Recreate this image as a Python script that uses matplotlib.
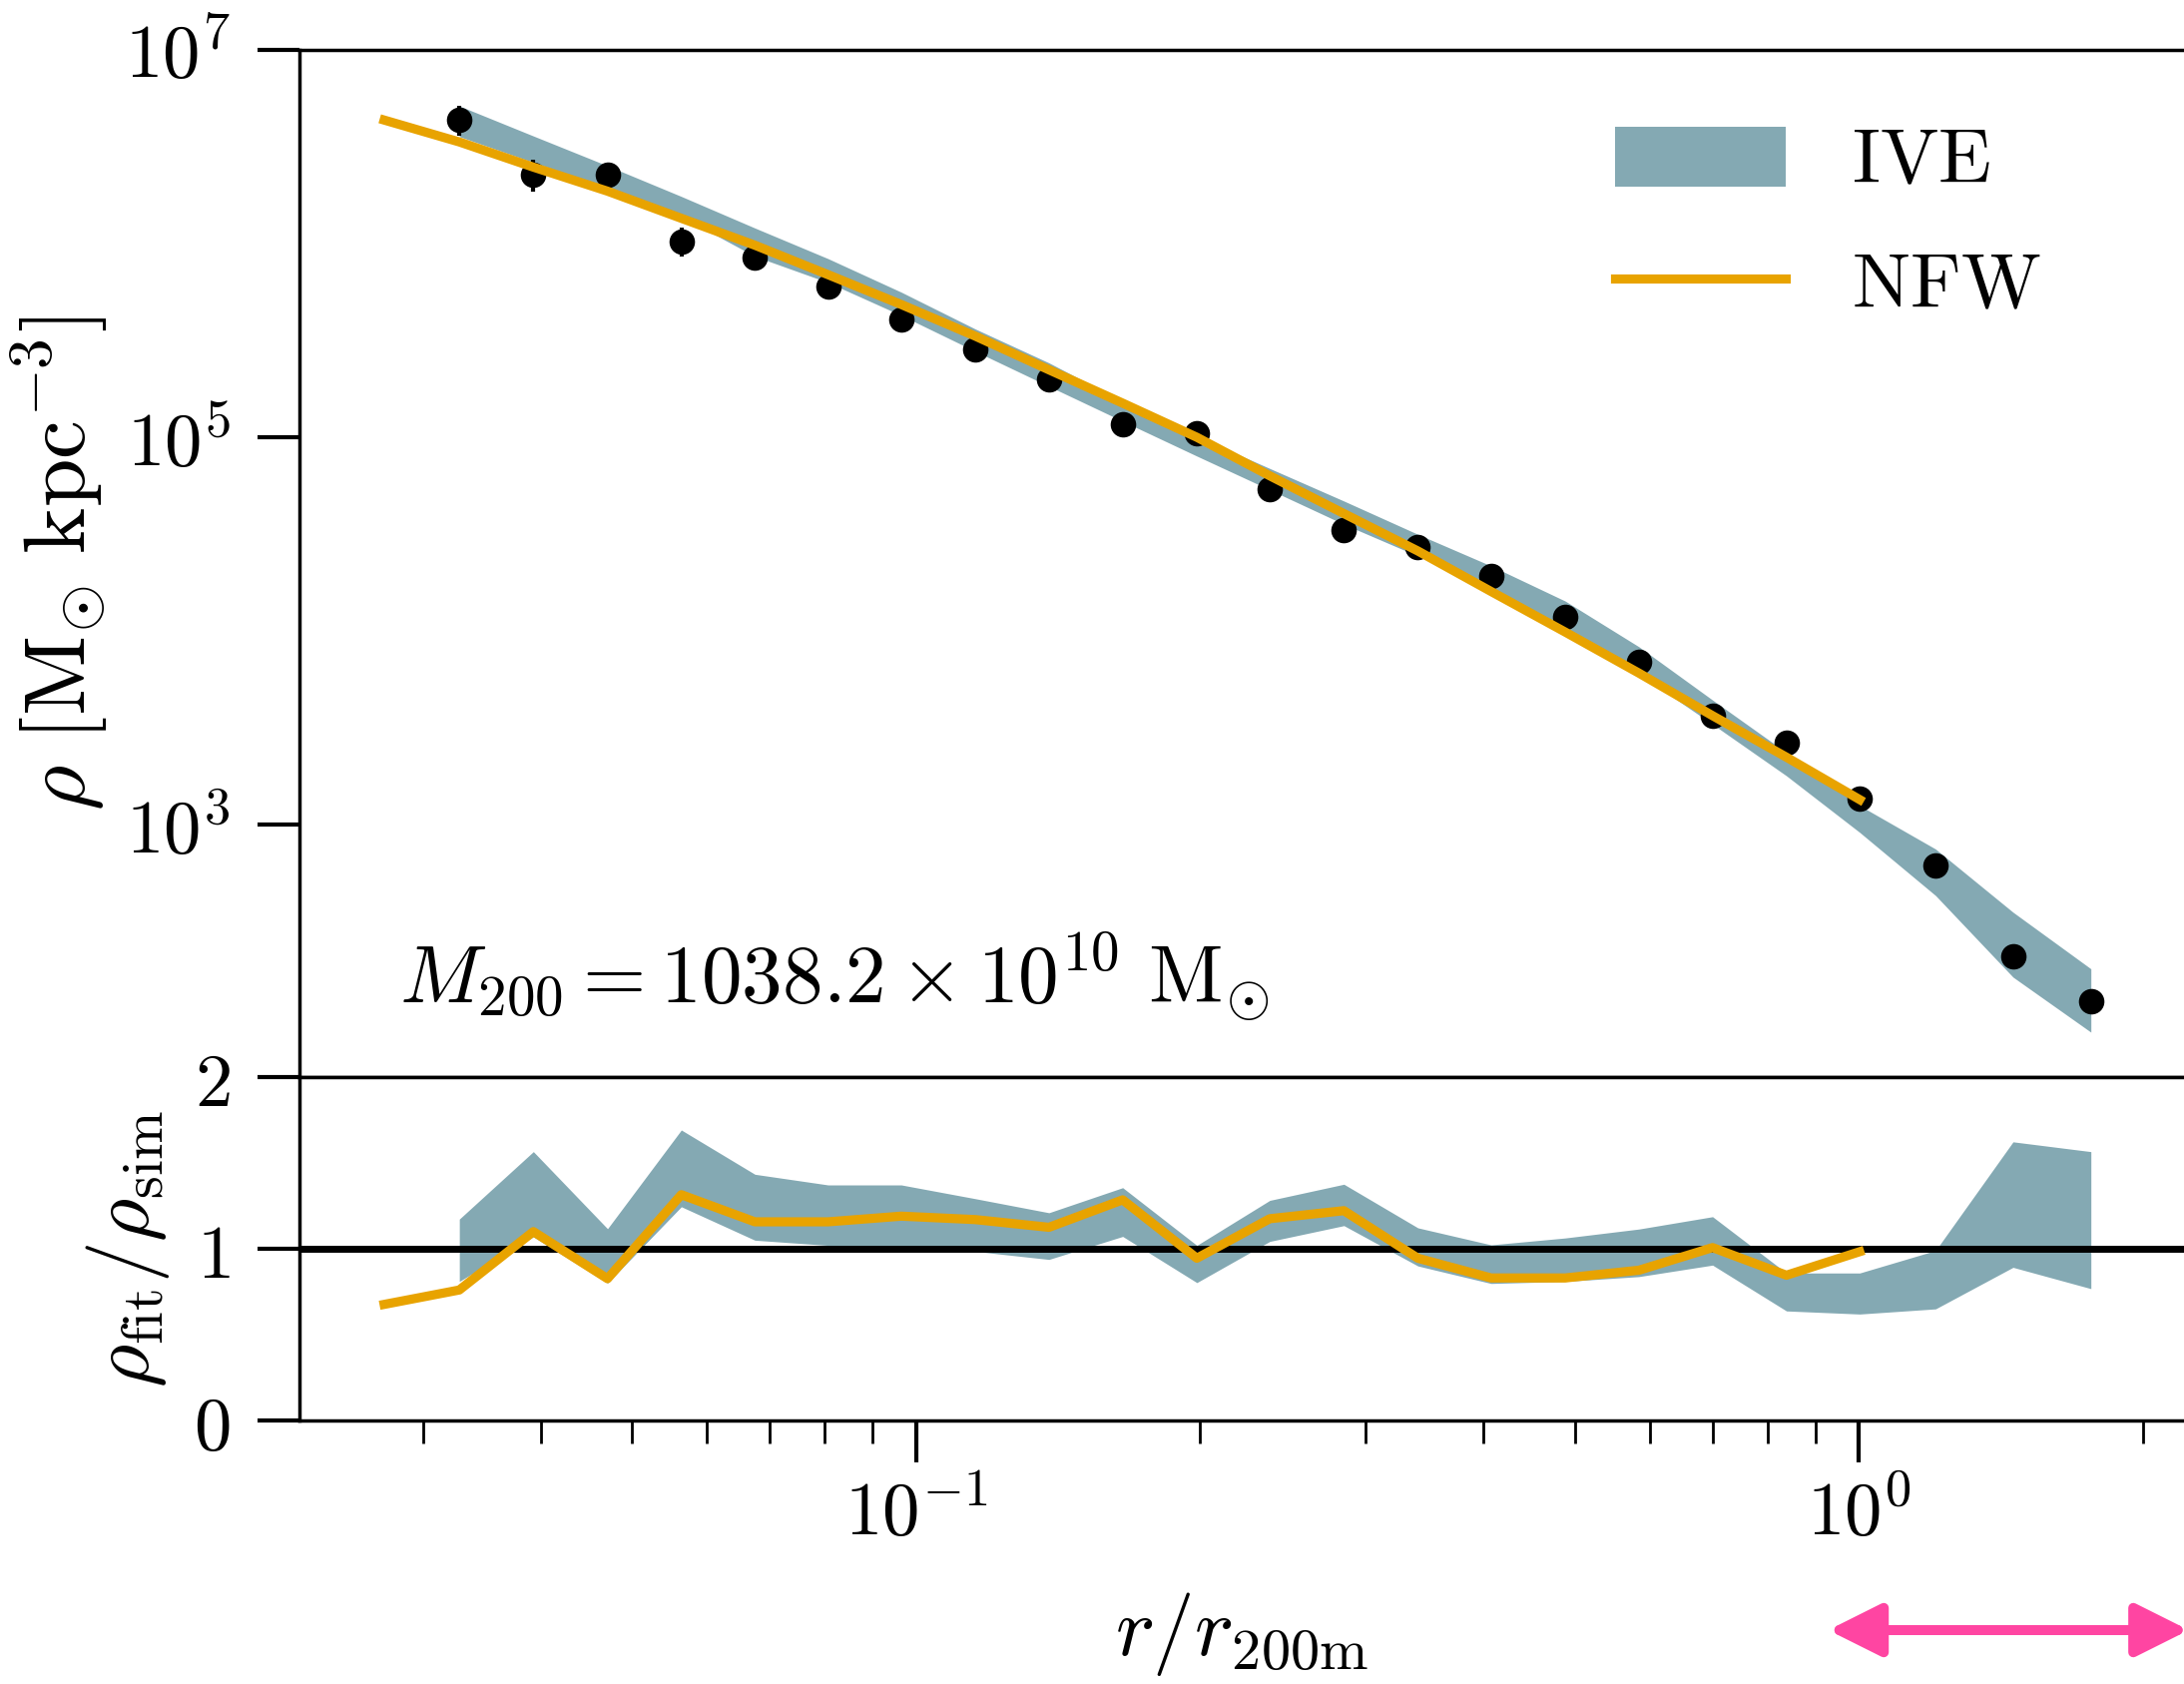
import numpy as np
import matplotlib
matplotlib.use("Agg")
import matplotlib.pyplot as plt
from matplotlib.patches import Patch
from matplotlib.lines import Line2D
from matplotlib.ticker import FixedLocator, LogLocator, NullLocator, FuncFormatter, NullFormatter

plt.rcParams['mathtext.fontset'] = 'cm'
plt.rcParams['font.family'] = 'serif'

# radial bins (r / r_200m) of the simulated profile
r = np.array([0.0328, 0.0393, 0.0471, 0.0564, 0.0675, 0.0807, 0.0965, 0.1156,
              0.1384, 0.1657, 0.1986, 0.2373, 0.2844, 0.3407, 0.4074, 0.4881,
              0.5844, 0.6996, 0.8379, 1.002, 1.206, 1.457, 1.762])
# bins used by the NFW fit
r_fit = np.array([0.0273, 0.0328, 0.0393, 0.0471, 0.0564, 0.0675, 0.0807, 0.0965,
                  0.1156, 0.1384, 0.1657, 0.1986, 0.2373, 0.2844, 0.3407, 0.4074,
                  0.4881, 0.5844, 0.6996, 0.8379, 1.002])

# log10 density of the simulation [Msun kpc^-3] and its errors in dex
rho_sim_log = np.array([6.639, 6.356, 6.356, 6.012, 5.929, 5.777, 5.610, 5.454,
                        5.299, 5.067, 5.024, 4.732, 4.521, 4.437, 4.285, 4.076,
                        3.842, 3.563, 3.423, 3.138, 2.790, 2.323, 2.093])
err_lo = np.array([0.082, 0.089, 0.06, 0.077, 0.06, 0.05, 0.045, 0.04, 0.035, 0.035,
                   0.03, 0.03, 0.03, 0.025, 0.025, 0.025, 0.025, 0.025, 0.025, 0.025,
                   0.03, 0.03, 0.035])
err_hi = np.array([0.072, 0.077, 0.06, 0.069, 0.06, 0.05, 0.045, 0.04, 0.035, 0.035,
                   0.03, 0.03, 0.03, 0.025, 0.025, 0.025, 0.025, 0.025, 0.025, 0.025,
                   0.03, 0.03, 0.035])

# IVE envelope (log10 density)
ive_hi_log = np.array([6.711, 6.556, 6.402, 6.244, 6.081, 5.923, 5.750, 5.560,
                       5.385, 5.187, 5.007, 4.840, 4.672, 4.500, 4.337, 4.156,
                       3.920, 3.645, 3.374, 3.100, 2.876, 2.550, 2.258])
ive_lo_log = np.array([6.553, 6.420, 6.290, 6.140, 5.935, 5.800, 5.630, 5.445,
                       5.264, 5.084, 4.904, 4.730, 4.552, 4.388, 4.216, 4.000,
                       3.780, 3.520, 3.254, 2.962, 2.636, 2.215, 1.931])

# NFW fit (log10 density)
nfw_log = np.array([6.638, 6.525, 6.395, 6.271, 6.131, 5.992, 5.840, 5.686, 5.523,
                    5.349, 5.177, 5.001, 4.802, 4.607, 4.414, 4.205, 3.996, 3.784,
                    3.564, 3.350, 3.131])

# ratio panel
ratio_nfw = np.array([0.676, 0.76, 1.10, 0.826, 1.315, 1.157, 1.157, 1.19, 1.17,
                      1.125, 1.285, 0.945, 1.175, 1.222, 0.945, 0.83, 0.83, 0.875,
                      1.007, 0.846, 0.983])
ratio_hi = np.array([1.173, 1.566, 1.117, 1.692, 1.434, 1.372, 1.372, 1.292, 1.21,
                     1.356, 1.02, 1.282, 1.376, 1.122, 1.023, 1.063, 1.115, 1.187,
                     0.859, 0.859, 0.99, 1.623, 1.566])
ratio_lo = np.array([0.81, 1.07, 0.80, 1.245, 1.05, 1.02, 1.007, 0.985, 0.938,
                     1.072, 0.803, 1.043, 1.135, 0.9, 0.798, 0.81, 0.838, 0.905,
                     0.638, 0.62, 0.65, 0.892, 0.768])

m200_text = r'$M_{200} = 1038.2 \times 10^{10}\ \mathrm{M}_{\odot}$'
arrow_range = (0.928, 2.238)

IVE_COLOR = '#84a9b3'
NFW_COLOR = '#e8a300'
ARROW_COLOR = '#ff45a2'
FS = 30

fig = plt.figure(figsize=(10.94, 8.435), dpi=200)
left = 300 / 2188
width = 1 - left
ax_top = fig.add_axes([left, 1 - 1079 / 1687, width, (1079 - 50) / 1687])
ax_bot = fig.add_axes([left, 1 - 1423 / 1687, width, (1423 - 1079) / 1687], sharex=ax_top)

# density profile
rho = 10 ** rho_sim_log
yerr = [rho - 10 ** (rho_sim_log - err_lo), 10 ** (rho_sim_log + err_hi) - rho]
ax_top.fill_between(r, 10 ** ive_lo_log, 10 ** ive_hi_log, color=IVE_COLOR, lw=0, zorder=1)
ax_top.errorbar(r, rho, yerr=yerr, fmt='o', color='k', ms=8.2, elinewidth=1.5,
                capsize=0, zorder=2)
ax_top.plot(r_fit, 10 ** nfw_log, color=NFW_COLOR, lw=3.3, zorder=3)
ax_top.set_xscale('log')
ax_top.set_yscale('log')
ax_top.set_ylim(50, 1e7)
ax_top.yaxis.set_major_locator(FixedLocator([1e3, 1e5, 1e7]))
ax_top.yaxis.set_minor_locator(NullLocator())
ax_top.yaxis.set_major_formatter(FuncFormatter(lambda v, p: r'$10^{%d}$' % round(np.log10(v))))
ax_top.tick_params(axis='x', which='both', bottom=False, top=False, labelbottom=False)
ax_top.tick_params(axis='y', which='major', length=15, width=1.5, labelsize=27, pad=10)
ax_top.set_ylabel(r'$\rho\ [\mathrm{M}_{\odot}\ \mathrm{kpc}^{-3}]$', fontsize=31.5, labelpad=5)
ax_top.text(0.053, 0.072, m200_text, transform=ax_top.transAxes, fontsize=29.3,
            ha='left', va='baseline')

handles = [Patch(facecolor=IVE_COLOR, edgecolor='none'),
           Line2D([], [], color=NFW_COLOR, lw=3.3)]
fig.legend(handles, [r'$\mathrm{IVE}$', r'$\mathrm{NFW}$'], loc='upper left',
           bbox_to_anchor=(1618 / 2188, 1 - 124 / 1687), frameon=False, fontsize=28,
           handlelength=2.2, handleheight=0.8, handletextpad=0.85, labelspacing=0.62,
           borderpad=0, borderaxespad=0)

# ratio panel
ax_bot.fill_between(r, ratio_lo, ratio_hi, color=IVE_COLOR, lw=0, zorder=1)
ax_bot.axhline(1, color='k', lw=2.5, zorder=2)
ax_bot.plot(r_fit, ratio_nfw, color=NFW_COLOR, lw=3.3, zorder=3)
ax_bot.set_ylim(0, 2)
ax_bot.set_xlim(0.0222, 2.212)
ax_bot.yaxis.set_major_locator(FixedLocator([0, 1, 2]))
ax_bot.yaxis.set_major_formatter(FuncFormatter(lambda v, p: r'$%d$' % round(v)))
ax_bot.xaxis.set_major_locator(FixedLocator([0.1, 1.0]))
ax_bot.xaxis.set_major_formatter(FuncFormatter(lambda v, p: r'$10^{%d}$' % round(np.log10(v))))
ax_bot.xaxis.set_minor_locator(LogLocator(base=10, subs=np.arange(2, 10)))
ax_bot.xaxis.set_minor_formatter(NullFormatter())
ax_bot.tick_params(axis='x', which='major', length=15, width=1.5, labelsize=27, pad=6)
ax_bot.tick_params(axis='x', which='minor', length=8.3, width=1.0)
ax_bot.tick_params(axis='y', which='major', length=15, width=1.5, labelsize=27, pad=10)
ax_bot.set_ylabel(r'$\rho_{\mathrm{fit}}/\rho_{\mathrm{sim}}$', fontsize=FS, labelpad=8)
ax_bot.set_xlabel(r'$r/r_{\mathrm{200m}}$', fontsize=FS, labelpad=14)

for ax in (ax_top, ax_bot):
    ax.spines['right'].set_visible(False)
    for s in ('left', 'top', 'bottom'):
        ax.spines[s].set_linewidth(1.25)

ax_bot.annotate('', xy=(arrow_range[0], -0.6105), xytext=(arrow_range[1], -0.6105),
                xycoords=('data', 'axes fraction'), textcoords=('data', 'axes fraction'),
                arrowprops=dict(arrowstyle='<|-|>,head_length=16,head_width=8',
                                color=ARROW_COLOR, lw=3.6, shrinkA=0, shrinkB=0,
                                mutation_scale=1),
                annotation_clip=False)

fig.savefig('out.png', dpi=200)
